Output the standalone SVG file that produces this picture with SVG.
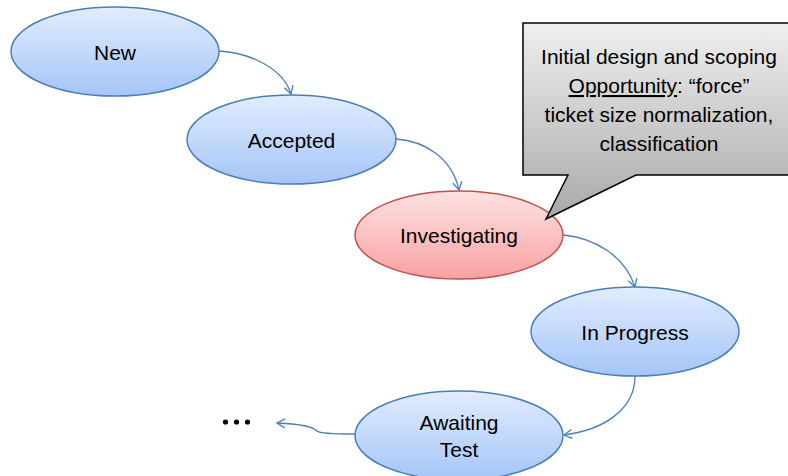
<svg xmlns="http://www.w3.org/2000/svg" width="788" height="476" viewBox="0 0 788 476">
<defs>
<linearGradient id="blue" x1="0" y1="0" x2="0" y2="1">
<stop offset="0" stop-color="#e1ecfe"/>
<stop offset="1" stop-color="#a5c5f8"/>
</linearGradient>
<linearGradient id="red" x1="0" y1="0" x2="0" y2="1">
<stop offset="0" stop-color="#ffe2e2"/>
<stop offset="1" stop-color="#f7a1a1"/>
</linearGradient>
<linearGradient id="gray" gradientUnits="userSpaceOnUse" x1="0" y1="23" x2="0" y2="219">
<stop offset="0" stop-color="#efefef"/>
<stop offset="1" stop-color="#a9a9a9"/>
</linearGradient>
<marker id="arr" markerUnits="userSpaceOnUse" markerWidth="14" markerHeight="14" viewBox="-10 -7 12 14" refX="0" refY="0" orient="auto" overflow="visible">
<path d="M-8,-4.5 L0,0 L-8,4.5" fill="none" stroke="#4a7ebb" stroke-width="1.3"/>
</marker>
<style>
.blue{fill:url(#blue);stroke:#4a7ebb;stroke-width:1.5}
.red{fill:url(#red);stroke:#c0504d;stroke-width:1.5}
.lbl{font-family:"Liberation Sans",Arial,sans-serif;font-size:21px;fill:#000;text-anchor:middle}
.conn{fill:none;stroke:#4a7ebb;stroke-width:1.3;marker-end:url(#arr)}
</style>
</defs>
<g id="connectors">
<path class="conn" d="M219,51 C250,53 283,68 291,94"/>
<path class="conn" d="M396,139 C425,141 452,158 459,190"/>
<path class="conn" d="M563,235 C595,238 625,256 635,287"/>
<path class="conn" d="M635,376 C635,410 603,430 564,435"/>
<path class="conn" d="M355,434 C340,434 320,434 317,431 C313,426 300,424 277,423"/>
</g>
<g id="node-new">
<ellipse class="blue" cx="115" cy="51.5" rx="104" ry="44.5"/>
<text class="lbl" x="115" y="60">New</text>
</g>
<g id="node-accepted">
<ellipse class="blue" cx="291.5" cy="139.5" rx="104.5" ry="44.5"/>
<text class="lbl" x="291.5" y="148">Accepted</text>
</g>
<g id="node-investigating">
<ellipse class="red" cx="459" cy="235" rx="104" ry="44"/>
<text class="lbl" x="459" y="243">Investigating</text>
</g>
<g id="node-inprogress">
<ellipse class="blue" cx="635" cy="331.5" rx="104" ry="44.5"/>
<text class="lbl" x="635" y="340">In Progress</text>
</g>
<g id="node-awaiting">
<ellipse class="blue" cx="459" cy="435.5" rx="104" ry="44.5"/>
<text class="lbl" x="459" y="430">Awaiting</text>
<text class="lbl" x="459" y="457">Test</text>
</g>
<g id="node-more">
<circle cx="225.5" cy="422" r="2.6" fill="#000"/>
<circle cx="236.5" cy="422" r="2.6" fill="#000"/>
<circle cx="247.5" cy="422" r="2.6" fill="#000"/>
</g>
<g id="callout">
<path d="M523,23 L790,23 L790,175 L636,175 L546,219 L568,175 L523,175 Z" fill="url(#gray)" stroke="#000" stroke-width="1.5"/>
<text class="lbl" x="659" y="64">Initial design and scoping</text>
<text class="lbl" x="659" y="93"><tspan text-decoration="underline">Opportunity</tspan>: “force”</text>
<text class="lbl" x="659" y="122">ticket size normalization,</text>
<text class="lbl" x="659" y="151">classification</text>
</g>
</svg>
